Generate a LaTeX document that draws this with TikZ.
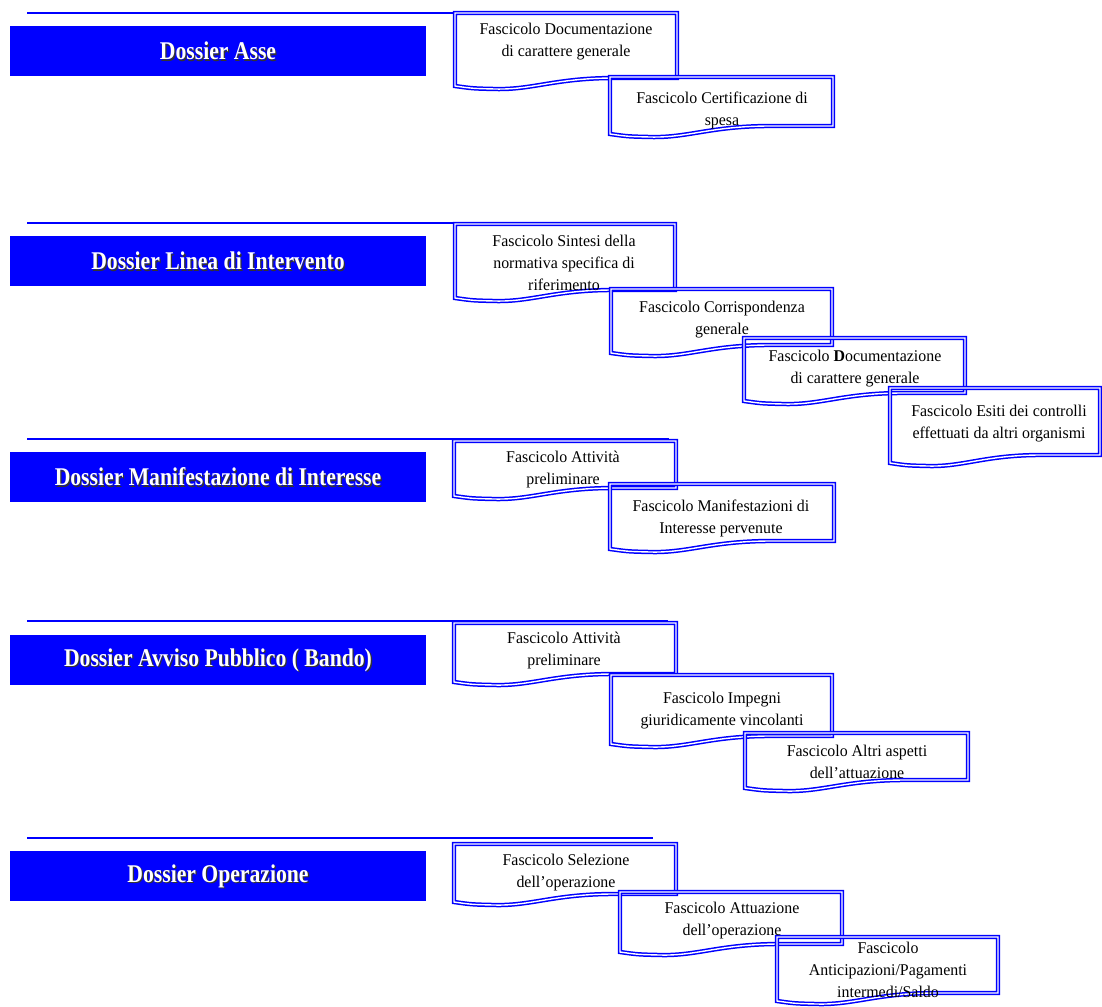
\documentclass[tikz,border=0pt]{standalone}
\usepackage{fontspec}
\setmainfont{Liberation Serif}
\newfontfamily\dossierfont{Liberation Serif}[FakeStretch=0.85]
\newfontfamily\docfont{Liberation Serif}[FakeStretch=0.97]
\tikzset{
  docline/.style={draw=blue, line width=1.5pt, double=white, double distance=1.4pt, line join=miter},
  doctext/.style={align=center, font=\docfont\fontsize{16.4}{22}\selectfont, inner sep=0pt, yshift=-2pt},
  dossierbox/.style={fill=blue, draw=none},
  dossiertext/.style={font=\dossierfont\fontsize{25.5}{28}\selectfont\bfseries, text=white, inner sep=0pt},
  dossiershadow/.style={font=\dossierfont\fontsize{25.5}{28}\selectfont\bfseries, text=black!80, inner sep=0pt},
  sectionline/.style={draw=blue, line width=1.6pt}
}
\newcommand{\docshape}[4]{%
  \pgfmathsetmacro{\docW}{#3-#1}%
  \draw[docline] (#1,#2) -- (#3,#2) -- (#3,#4-11) -- ({#1+0.72*\docW},{#4-11})
    .. controls ({#1+0.45*\docW},{#4-11}) and ({#1+0.35*\docW},{#4+1}) .. ({#1+0.18*\docW},{#4})
    .. controls ({#1+0.08*\docW},{#4-0.5}) .. (#1,#4-3) -- cycle;
}
\newcommand{\dossier}[4]{% name, y top, y bottom, text
  \fill[dossierbox] (10,#2) rectangle (426,#3);
  \node[dossiershadow] at (219.3,{(#2+#3)/2+1.3}) {#4};
  \node[dossiertext] (#1) at (218,{(#2+#3)/2}) {#4};
}
\begin{document}
\begin{tikzpicture}[x=1pt,y=-1pt]
\useasboundingbox (0,0) rectangle (1102,1006);

% ---------- Section A
\draw[sectionline] (27,13) -- (668,13);
\dossier{dA}{26}{76}{Dossier Asse}
\docshape{455}{13}{677}{89}
\docshape{610}{77}{833}{137}
\node[doctext] (a1) at (566,40) {Fascicolo Documentazione\\di carattere generale};
\node[doctext] (a2) at (722,108.5) {Fascicolo Certificazione di\\spesa};

% ---------- Section B
\draw[sectionline] (27,223) -- (665,223);
\dossier{dB}{236}{286}{Dossier Linea di Intervento}
\docshape{455}{224}{675}{301}
\docshape{611}{289}{832}{356}
\docshape{744}{338}{965}{404}
\docshape{890}{388}{1100}{466}
\node[doctext] (b1) at (564,261) {Fascicolo Sintesi della\\normativa specifica di\\riferimento};
\node[doctext] (b2) at (722,318) {Fascicolo Corrispondenza\\generale};
\node[doctext] (b3) at (855,367) {Fascicolo \textbf{D}ocumentazione\\di carattere generale};
\node[doctext] (b4) at (999,422) {Fascicolo Esiti dei controlli\\effettuati da altri organismi};

% ---------- Section C
\draw[sectionline] (27,439) -- (669,439);
\dossier{dC}{452}{502}{Dossier Manifestazione di Interesse}
\docshape{454}{441}{676}{499}
\docshape{610}{484}{834}{552}
\node[doctext] (c1) at (563,468) {Fascicolo Attività\\preliminare};
\node[doctext] (c2) at (721,516) {Fascicolo Manifestazioni di\\Interesse pervenute};

% ---------- Section D
\draw[sectionline] (27,621) -- (668,621);
\dossier{dD}{635}{685}{Dossier Avviso Pubblico ( Bando)}
\docshape{454}{623}{676}{685}
\docshape{611}{675}{832}{747}
\docshape{745}{733}{968}{791}
\node[doctext] (d1) at (564,649) {Fascicolo Attività\\preliminare};
\node[doctext] (d2) at (722,709) {Fascicolo Impegni\\giuridicamente vincolanti};
\node[doctext] (d3) at (857,760) {Fascicolo Altri aspetti\\dell’attuazione};

% ---------- Section E
\draw[sectionline] (27,838) -- (653,838);
\dossier{dE}{851}{901}{Dossier Operazione}
\docshape{454}{844}{676}{905}
\docshape{620}{892}{842}{955}
\docshape{777}{937}{998}{1004}
\node[doctext] (e1) at (566,871) {Fascicolo Selezione\\dell’operazione};
\node[doctext] (e2) at (732,919) {Fascicolo Attuazione\\dell’operazione};
\node[doctext] (e3) at (888,968) {Fascicolo\\Anticipazioni/Pagamenti\\intermedi/Saldo};
\end{tikzpicture}
\end{document}
